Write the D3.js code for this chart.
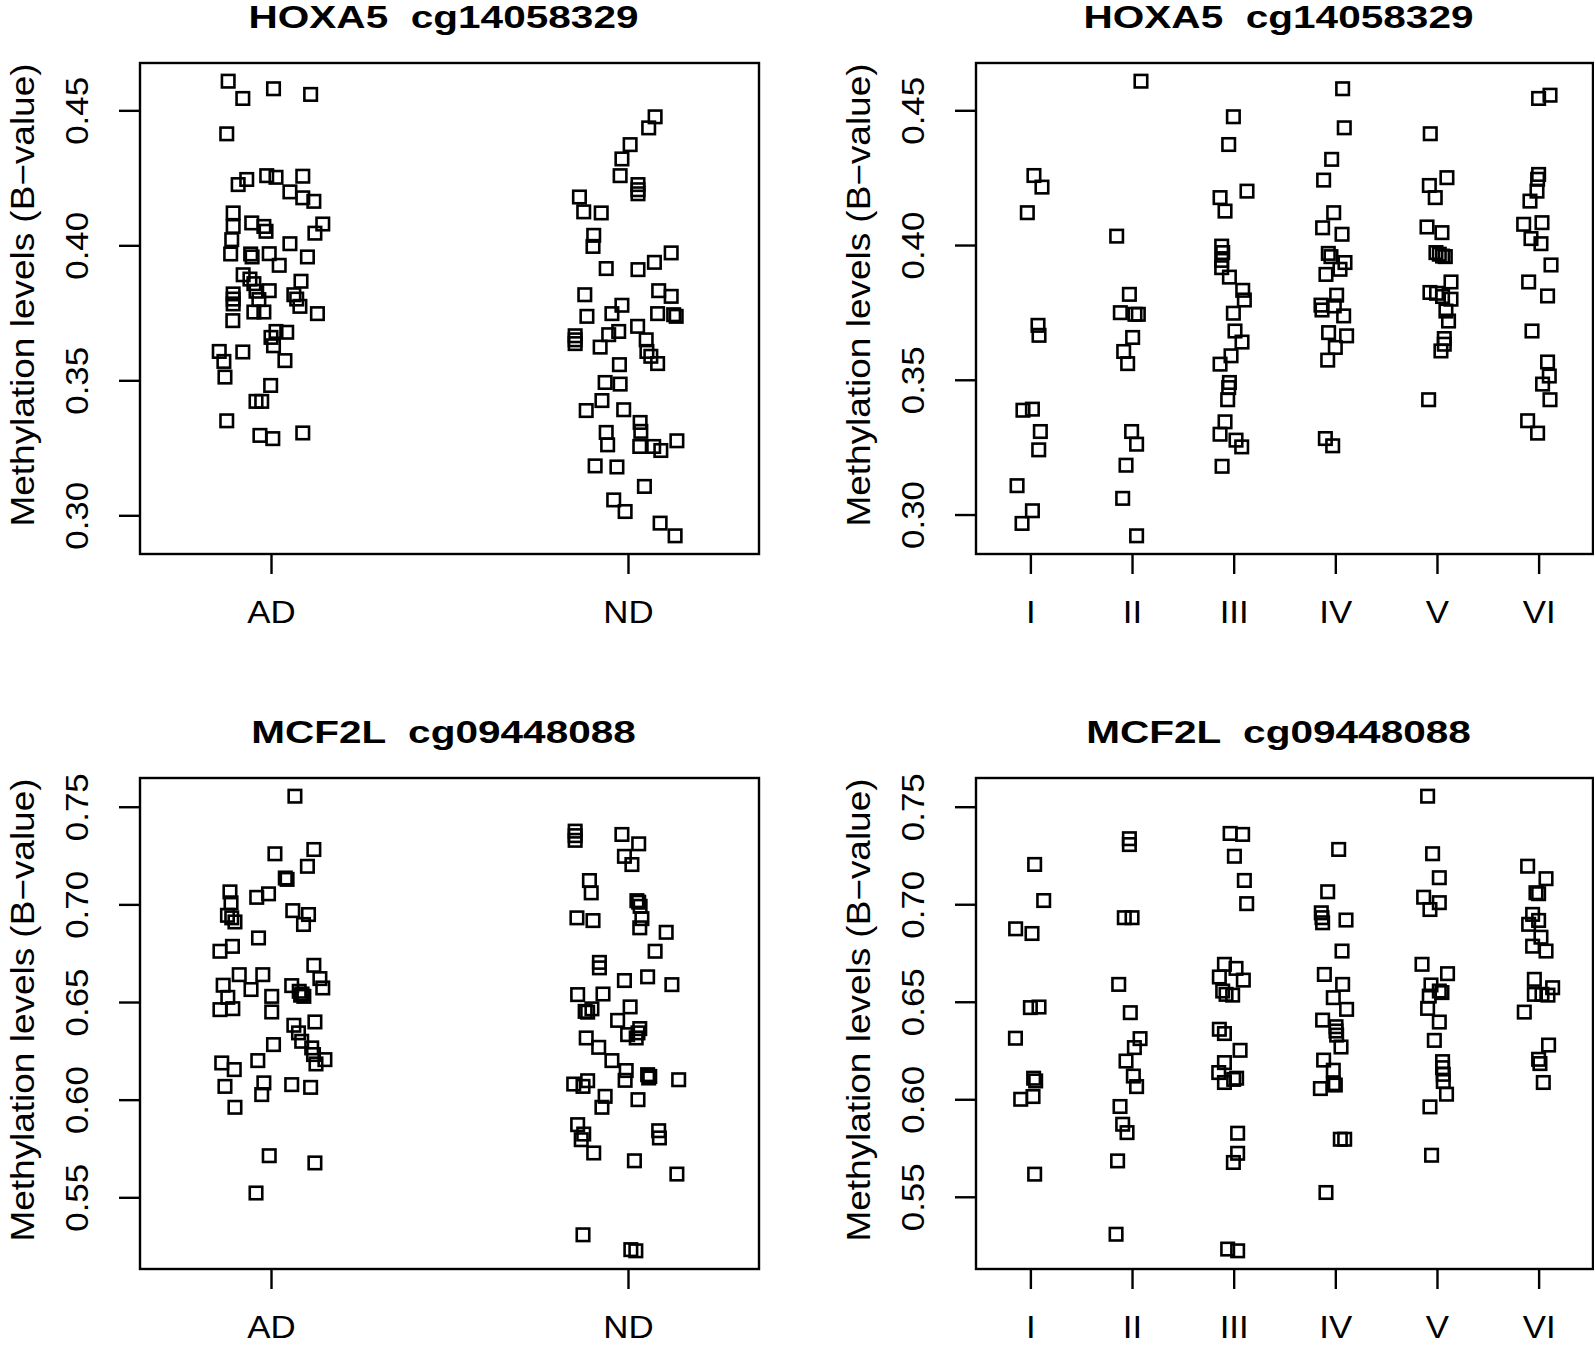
<!DOCTYPE html>
<html>
<head>
<meta charset="utf-8">
<script src="https://cdn.jsdelivr.net/npm/d3@7"></script>
<style>
  body { margin: 0; background: #fff; }
  text { font-family: "Liberation Sans", Arial, Helvetica, sans-serif; fill: #000; }
</style>
</head>
<body>
<div id="chart"></div>
<script>
// values: [jitter (fraction of a category step), methylation B-value]
var groupsDx = ["AD", "ND"];
var groupsStage = ["I", "II", "III", "IV", "V", "VI"];
var ticksHoxa = [0.30, 0.35, 0.40, 0.45];
var ticksMcf = [0.55, 0.60, 0.65, 0.70, 0.75];

var hoxaAD = [[-0.120,0.4608],[-0.079,0.4544],[0.007,0.4580],[0.111,0.4559],[-0.124,0.4413],
  [-0.092,0.4225],[-0.068,0.4244],[-0.012,0.4258],[0.014,0.4252],[0.089,0.4256],
  [0.053,0.4198],[0.089,0.4176],[0.120,0.4163],[-0.106,0.4120],[-0.106,0.4070],
  [-0.054,0.4083],[-0.020,0.4070],[-0.014,0.4052],[0.145,0.4079],[0.123,0.4045],
  [-0.110,0.4021],[0.053,0.4006],[-0.113,0.3968],[-0.057,0.3968],[-0.053,0.3957],
  [-0.005,0.3969],[0.023,0.3926],[0.102,0.3957],[-0.078,0.3891],[-0.059,0.3875],
  [-0.048,0.3858],[0.084,0.3867],[-0.106,0.3820],[-0.106,0.3801],[-0.106,0.3783],
  [-0.042,0.3830],[-0.005,0.3832],[-0.034,0.3799],[0.064,0.3817],[0.081,0.3774],
  [0.072,0.3801],[-0.048,0.3753],[-0.020,0.3753],[0.130,0.3747],[-0.107,0.3721],
  [0.014,0.3681],[0.044,0.3678],[0.000,0.3659],[0.007,0.3628],[-0.145,0.3607],
  [-0.079,0.3605],[-0.132,0.3570],[0.039,0.3573],[-0.129,0.3512],[-0.001,0.3481],
  [-0.042,0.3422],[-0.026,0.3422],[-0.124,0.3350],[-0.031,0.3296],[0.005,0.3284],
  [0.089,0.3305]];
var hoxaND = [[0.076,0.4476],[0.058,0.4435],[0.006,0.4373],[-0.017,0.4320],[-0.022,0.4258],
  [0.028,0.4225],[0.028,0.4206],[0.028,0.4191],[-0.136,0.4179],[-0.124,0.4124],
  [-0.075,0.4120],[-0.096,0.4037],[-0.098,0.3996],[-0.061,0.3914],[0.028,0.3910],
  [0.074,0.3937],[0.121,0.3972],[-0.121,0.3817],[0.086,0.3832],[0.121,0.3811],
  [-0.115,0.3737],[-0.017,0.3778],[-0.045,0.3747],[0.083,0.3747],[0.128,0.3743],
  [0.135,0.3737],[-0.148,0.3665],[-0.148,0.3650],[-0.148,0.3636],[-0.054,0.3669],
  [-0.026,0.3681],[-0.078,0.3623],[0.027,0.3700],[0.051,0.3650],[0.053,0.3607],
  [0.064,0.3589],[0.083,0.3562],[-0.024,0.3558],[-0.064,0.3492],[-0.022,0.3486],
  [-0.073,0.3425],[-0.117,0.3388],[-0.012,0.3391],[0.034,0.3344],[0.036,0.3311],
  [-0.061,0.3307],[-0.057,0.3261],[0.033,0.3255],[0.072,0.3255],[0.092,0.3240],
  [0.137,0.3276],[-0.092,0.3183],[-0.031,0.3179],[0.046,0.3107],[-0.040,0.3057],
  [-0.008,0.3014],[0.090,0.2971],[0.132,0.2924]];

var hoxaI = [[0.035,0.4258],[0.114,0.4215],[-0.030,0.4120],[0.075,0.3702],[0.085,0.3665],[-0.073,0.3387],
  [0.020,0.3391],[0.098,0.3308],[0.082,0.3240],[-0.131,0.3107],[0.020,0.3014],[-0.082,0.2967]];
var hoxaII = [[0.088,0.4608],[-0.151,0.4033],[-0.026,0.3817],[-0.115,0.3749],[0.029,0.3743],[0.062,0.3743],
  [0.006,0.3657],[-0.082,0.3605],[-0.043,0.3560],[-0.004,0.3308],[0.045,0.3261],[-0.059,0.3183],
  [-0.092,0.3060],[0.045,0.2921]];
var hoxaIII = [[-0.003,0.4476],[-0.049,0.4373],[0.131,0.4200],[-0.134,0.4176],[-0.085,0.4126],[-0.118,0.3996],
  [-0.108,0.3972],[-0.118,0.3943],[-0.118,0.3916],[-0.042,0.3881],[0.089,0.3832],[0.105,0.3796],
  [-0.003,0.3747],[0.013,0.3681],[0.082,0.3640],[-0.026,0.3589],[-0.134,0.3558],[-0.042,0.3490],
  [-0.049,0.3471],[-0.059,0.3426],[-0.085,0.3344],[-0.134,0.3298],[0.023,0.3276],[0.079,0.3251],
  [-0.114,0.3179]];
var hoxaIV = [[0.072,0.4580],[0.088,0.4435],[-0.036,0.4318],[-0.115,0.4241],[-0.016,0.4120],[-0.125,0.4064],
  [0.066,0.4040],[-0.069,0.3969],[-0.043,0.3957],[0.095,0.3935],[0.046,0.3910],[-0.092,0.3891],
  [0.013,0.3814],[-0.141,0.3777],[-0.131,0.3759],[-0.010,0.3774],[0.082,0.3737],[-0.066,0.3675],
  [0.111,0.3663],[0.000,0.3620],[-0.075,0.3573],[-0.098,0.3282],[-0.026,0.3255]];
var hoxaV = [[-0.066,0.4413],[0.098,0.4250],[-0.075,0.4221],[-0.017,0.4176],[-0.098,0.4067],[0.049,0.4046],
  [-0.010,0.3972],[0.023,0.3966],[0.055,0.3959],[0.082,0.3957],[0.138,0.3863],[-0.069,0.3824],
  [-0.004,0.3821],[0.055,0.3809],[0.138,0.3799],[0.088,0.3755],[0.114,0.3718],[0.072,0.3653],
  [0.072,0.3632],[0.039,0.3607],[-0.082,0.3426]];
var hoxaVI = [[0.000,0.4544],[0.112,0.4556],[0.000,0.4262],[-0.010,0.4244],[-0.016,0.4200],[-0.085,0.4163],
  [-0.147,0.4077],[0.033,0.4083],[-0.075,0.4024],[0.023,0.4005],[0.122,0.3926],[-0.098,0.3863],
  [0.088,0.3811],[-0.065,0.3681],[0.088,0.3566],[0.105,0.3514],[0.039,0.3484],[0.112,0.3426],
  [-0.108,0.3348],[-0.010,0.3302]];

var mcfAD = [[0.067,0.7554],[0.011,0.7259],[0.120,0.7281],[0.102,0.7195],[0.040,0.7135],[0.045,0.7128],
  [-0.115,0.7064],[-0.040,0.7036],[-0.007,0.7054],[-0.112,0.7008],[-0.122,0.6944],[-0.110,0.6931],
  [-0.101,0.6910],[0.061,0.6968],[0.105,0.6948],[0.091,0.6897],[-0.035,0.6828],[-0.143,0.6760],
  [-0.108,0.6785],[-0.089,0.6640],[-0.023,0.6640],[-0.134,0.6586],[-0.056,0.6564],[-0.121,0.6524],
  [-0.143,0.6461],[-0.107,0.6466],[0.002,0.6529],[0.002,0.6449],[0.058,0.6584],[0.079,0.6555],
  [0.087,0.6541],[0.092,0.6529],[0.083,0.6535],[0.120,0.6688],[0.137,0.6620],[0.145,0.6572],
  [0.123,0.6398],[0.064,0.6381],[0.077,0.6342],[0.086,0.6299],[0.114,0.6265],[0.119,0.6231],
  [0.126,0.6183],[0.151,0.6205],[0.007,0.6282],[-0.037,0.6200],[-0.138,0.6188],[-0.103,0.6154],
  [-0.129,0.6068],[-0.020,0.6086],[-0.026,0.6026],[0.058,0.6077],[0.111,0.6063],[-0.101,0.5961],
  [-0.005,0.5713],[0.123,0.5676],[-0.042,0.5522]];
var mcfND = [[-0.148,0.7375],[-0.148,0.7352],[-0.148,0.7328],[-0.017,0.7358],[0.030,0.7310],[-0.010,0.7246],
  [0.011,0.7204],[-0.108,0.7122],[-0.103,0.7059],[0.025,0.7019],[0.030,0.7011],[0.034,0.6990],
  [0.039,0.6927],[0.033,0.6880],[0.107,0.6857],[-0.143,0.6931],[-0.098,0.6917],[0.076,0.6760],
  [-0.080,0.6703],[-0.080,0.6675],[-0.010,0.6610],[0.055,0.6629],[0.123,0.6589],[-0.141,0.6538],
  [-0.070,0.6541],[-0.120,0.6452],[-0.113,0.6448],[-0.101,0.6465],[0.006,0.6475],[-0.029,0.6406],
  [0.033,0.6364],[0.028,0.6342],[0.023,0.6316],[-0.001,0.6333],[-0.117,0.6316],[-0.082,0.6268],
  [-0.045,0.6200],[-0.005,0.6149],[-0.008,0.6099],[0.055,0.6128],[0.061,0.6119],[0.058,0.6111],
  [0.142,0.6102],[-0.152,0.6080],[-0.126,0.6068],[-0.113,0.6097],[-0.064,0.6017],[-0.073,0.5961],
  [0.028,0.6000],[-0.141,0.5872],[-0.124,0.5824],[-0.131,0.5795],[-0.096,0.5727],[0.086,0.5841],
  [0.088,0.5804],[0.018,0.5687],[0.137,0.5619],[-0.126,0.5308],[0.008,0.5232],[0.022,0.5226]];

var mcfI = [[0.042,0.7204],[0.131,0.7019],[-0.145,0.6874],[0.016,0.6850],[0.000,0.6470],[0.085,0.6473],
  [-0.147,0.6313],[0.032,0.6108],[0.052,0.6094],[-0.095,0.6000],[0.026,0.6014],[0.042,0.5616]];
var mcfII = [[-0.026,0.7336],[-0.026,0.7306],[-0.076,0.6931],[0.000,0.6931],[-0.131,0.6589],[-0.017,0.6444],
  [0.079,0.6311],[0.023,0.6265],[-0.059,0.6196],[0.013,0.6119],[0.045,0.6065],[-0.118,0.5963],
  [-0.092,0.5872],[-0.049,0.5829],[-0.142,0.5684],[-0.157,0.5308]];
var mcfIII = [[-0.035,0.7363],[0.088,0.7358],[0.007,0.7246],[0.105,0.7122],[0.128,0.7003],[-0.091,0.6692],
  [0.023,0.6671],[-0.141,0.6627],[0.095,0.6611],[-0.108,0.6555],[-0.075,0.6538],[-0.010,0.6534],
  [-0.141,0.6359],[-0.091,0.6337],[0.063,0.6251],[-0.091,0.6188],[-0.147,0.6137],[-0.091,0.6086],
  [0.000,0.6102],[0.029,0.6108],[0.039,0.5826],[0.039,0.5723],[-0.003,0.5676],[-0.059,0.5232],
  [0.039,0.5223]];
var mcfIV = [[0.033,0.7281],[-0.075,0.7064],[-0.138,0.6956],[-0.131,0.6931],[-0.125,0.6905],[0.105,0.6919],
  [0.066,0.6760],[-0.108,0.6640],[0.072,0.6589],[-0.020,0.6521],[0.111,0.6461],[-0.125,0.6406],
  [0.007,0.6372],[0.007,0.6350],[0.013,0.6329],[0.056,0.6268],[-0.115,0.6201],[-0.020,0.6149],
  [-0.020,0.6080],[0.000,0.6073],[-0.147,0.6055],[0.049,0.5795],[0.092,0.5795],[-0.092,0.5522]];
var mcfV = [[-0.092,0.7554],[-0.043,0.7259],[0.023,0.7136],[0.023,0.7008],[-0.131,0.7036],[-0.069,0.6973],
  [-0.147,0.6692],[0.104,0.6644],[-0.059,0.6586],[0.023,0.6555],[0.049,0.6547],[-0.076,0.6529],
  [-0.092,0.6466],[0.023,0.6396],[-0.026,0.6302],[0.055,0.6193],[0.055,0.6162],[0.062,0.6128],
  [0.062,0.6091],[0.094,0.6026],[-0.069,0.5961],[-0.053,0.5713]];
var mcfVI = [[-0.108,0.7195],[0.073,0.7131],[-0.026,0.7059],[0.000,0.7054],[-0.059,0.6948],[-0.098,0.6897],
  [0.000,0.6917],[0.023,0.6831],[-0.059,0.6785],[0.073,0.6760],[-0.042,0.6615],[-0.042,0.6538],
  [0.033,0.6538],[0.138,0.6572],[0.092,0.6534],[-0.141,0.6447],[0.098,0.6278],[0.000,0.6205],
  [0.013,0.6183],[0.046,0.6086]];

var width = 1594,
    height = 1345,
    sq = 12.5;

var svg = d3.select("#chart").append("svg")
    .attr("width", width)
    .attr("height", height)
    .style("display", "block")

svg.append("rect").attr("width", width).attr("height", height).attr("fill", "#fff")

var panels = [
  {title: "HOXA5  cg14058329", groups: groupsDx, series: [hoxaAD, hoxaND], ticks: ticksHoxa,
   x0: 140, x1: 759, y0: 63, y1: 554, pad: 0.367},
  {title: "HOXA5  cg14058329", groups: groupsStage, series: [hoxaI, hoxaII, hoxaIII, hoxaIV, hoxaV, hoxaVI], ticks: ticksHoxa,
   x0: 976, x1: 1593, y0: 63, y1: 554, pad: 0.535},
  {title: "MCF2L  cg09448088", groups: groupsDx, series: [mcfAD, mcfND], ticks: ticksMcf,
   x0: 140, x1: 759, y0: 778, y1: 1269, pad: 0.367},
  {title: "MCF2L  cg09448088", groups: groupsStage, series: [mcfI, mcfII, mcfIII, mcfIV, mcfV, mcfVI], ticks: ticksMcf,
   x0: 976, x1: 1593, y0: 778, y1: 1269, pad: 0.535}
];

panels.forEach(function(p) {
  var g = svg.append("g")

  // y limits like R: data range widened by 4% each side
  var all = [].concat.apply([], p.series).map(function(d){return d[1]})
  var ext = d3.extent(all), r = ext[1] - ext[0]
  var y = d3.scaleLinear().domain([ext[0] - 0.04 * r, ext[1] + 0.04 * r]).range([p.y1, p.y0])
  var x = d3.scalePoint().domain(p.groups).range([p.x0, p.x1]).padding(p.pad)

  /* points */
  p.series.forEach(function(s, i) {
    g.selectAll(null)
      .data(s)
      .enter().append("rect")
      .attr("x", function(d){return x(p.groups[i]) + d[0] * x.step() - sq / 2})
      .attr("y", function(d){return y(d[1]) - sq / 2})
      .attr("width", sq)
      .attr("height", sq)
      .attr("fill", "none")
      .attr("stroke", "#000")
      .attr("stroke-width", 2.6)
  })

  /* axes */
  var ax = g.append("g")
      .attr("transform", "translate(0," + p.y1 + ")")
      .call(d3.axisBottom(x).tickSize(20).tickSizeOuter(0))
  ax.select(".domain").remove()
  ax.selectAll("line").attr("stroke", "#000").attr("stroke-width", 2.4)
  ax.selectAll("text")
      .attr("y", 0).attr("dy", null)
      .attr("transform", "translate(0,69) scale(1.09,1)")
      .style("font-size", "32px")
      .attr("fill", "#000")

  var ay = g.append("g")
      .attr("transform", "translate(" + p.x0 + ",0)")
      .call(d3.axisLeft(y).tickValues(p.ticks).tickFormat(d3.format(".2f")).tickSize(21).tickSizeOuter(0))
  ay.select(".domain").remove()
  ay.selectAll("line").attr("stroke", "#000").attr("stroke-width", 2.4)
  ay.selectAll("text")
      .attr("x", 0).attr("dy", null)
      .attr("text-anchor", "middle")
      .attr("transform", "translate(-52,0) rotate(-90) scale(1.09,1)")
      .style("font-size", "32px")
      .attr("fill", "#000")

  /* frame */
  g.append("rect")
      .attr("x", p.x0).attr("y", p.y0)
      .attr("width", p.x1 - p.x0).attr("height", p.y1 - p.y0)
      .attr("fill", "none").attr("stroke", "#000").attr("stroke-width", 2.4)

  g.append("text")
      .attr("text-anchor", "middle")
      .attr("transform", "translate(" + ((p.x0 + p.x1) / 2 - 6) + "," + (p.y0 - 35) + ") scale(1.33,1)")
      .style("font-size", "30.5px")
      .style("font-weight", "bold")
      .style("white-space", "pre")
      .text(p.title)

  g.append("text")
      .attr("text-anchor", "middle")
      .attr("transform", "translate(" + (p.x0 - 106.5) + "," + (p.y0 + 232) + ") rotate(-90) scale(1.12,1)")
      .style("font-size", "33px")
      .text("Methylation levels (B\u2212value)")
})
</script>
</body>
</html>
